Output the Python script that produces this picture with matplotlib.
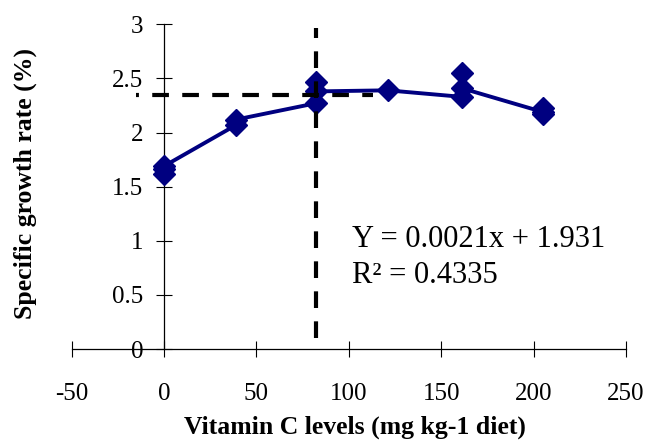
import numpy as np
import matplotlib.pyplot as plt

plt.rcParams['font.family'] = ['Liberation Serif', 'DejaVu Serif']
plt.rcParams['axes.unicode_minus'] = False

# vitamin C level (mg/kg diet) and specific growth rate (%) of each replicate, in plotting order
vit_c = [0, 0, 0, 39, 39, 82, 82, 82, 121, 161, 161, 161, 205, 205, 205]
sgr = [1.62, 1.66, 1.69, 2.07, 2.12, 2.27, 2.47, 2.38, 2.39, 2.33, 2.55, 2.41, 2.19, 2.23, 2.17]

# broken-line breakpoint guides
break_x = 82
break_y = 2.35
vline_y = (0.1, 2.97)
hline_x = (-15, 113)

eq_text = "Y = 0.0021x + 1.931"
r2_text = "R\u00b2 = 0.4335"

x_ticks = [-50, 0, 50, 100, 150, 200, 250]
y_ticks = [0, 0.5, 1, 1.5, 2, 2.5, 3]

fig = plt.figure(figsize=(6.45, 4.42), dpi=100)
ax = fig.add_axes([0.1112, 0.2104, 0.8593, 0.7346])

ax.plot(vit_c, sgr, color='#000080', lw=2.8, marker='D', markersize=11,
        markerfacecolor='#000080', markeredgecolor='#000080', zorder=3)

ax.plot([break_x, break_x], vline_y, color='black', lw=3, linestyle=(0, (4, 3.2)), zorder=4)
ax.plot(hline_x, [break_y, break_y], color='black', lw=3, linestyle=(3.3, (4, 3.2)), zorder=4)

ax.text(101.5, 0.945, eq_text, fontsize=22, va='baseline', ha='left')
ax.text(101.5, 0.607, r2_text, fontsize=22, va='baseline', ha='left')

ax.set_xlim(-50, 250)
ax.set_ylim(0, 3)
ax.set_xticks(x_ticks)
ax.set_yticks(y_ticks)
ax.set_xticklabels([str(v) for v in x_ticks])
ax.set_yticklabels(['0', '0.5', '1', '1.5', '2', '2.5', '3'])

ax.spines['top'].set_visible(False)
ax.spines['right'].set_visible(False)
ax.spines['left'].set_position(('data', 0))
ax.spines['left'].set_linewidth(0.9)
ax.spines['bottom'].set_linewidth(0.9)

ax.tick_params(axis='both', direction='inout', width=0.8, labelsize=18)
ax.tick_params(axis='x', length=11, pad=19)
ax.tick_params(axis='y', length=12, pad=9)

ax.set_xlabel("Vitamin C levels (mg kg-1 diet)", fontsize=18.5, fontweight='bold')
ax.set_ylabel("Specific growth rate (%)", fontsize=18.5, fontweight='bold')
ax.xaxis.set_label_coords(0.511, -0.205)
ax.yaxis.set_label_coords(-0.062, 0.51)

fig.savefig('out.png', dpi=100)
